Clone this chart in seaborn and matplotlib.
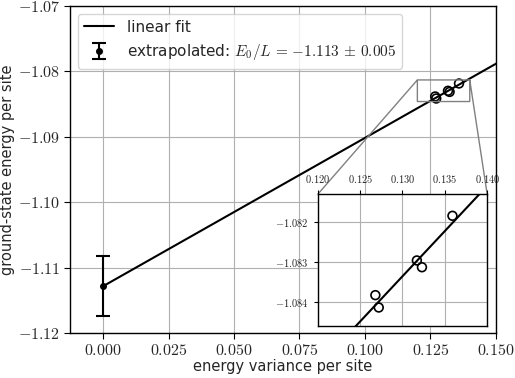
import numpy as np
import pandas as pd
import matplotlib
matplotlib.use("Agg")
import matplotlib.pyplot as plt
from matplotlib.ticker import FuncFormatter
import seaborn as sns

# data
variance = [0.1268, 0.1272, 0.1317, 0.1323, 0.1359]
energy = [-1.08383, -1.08414, -1.08296, -1.08313, -1.08184]
e0 = -1.1128
e0_err = 0.0046

slope, intercept = np.polyfit(variance, energy, 1)
fit_x = np.array([0.0, 0.16])
fit = pd.DataFrame({"x": fit_x, "y": intercept + slope * fit_x})
pts = pd.DataFrame({"x": variance, "y": energy})

sns.set_style("whitegrid", {"axes.edgecolor": "black", "grid.color": "#b0b0b0",
                            "xtick.bottom": True, "ytick.left": True})
plt.rcParams["font.family"] = ["DejaVu Sans"]
plt.rcParams["mathtext.fontset"] = "cm"
plt.rcParams["grid.linewidth"] = 0.8

fig = plt.figure(figsize=(5.15, 3.78), dpi=100)
ax = fig.add_axes([0.136, 0.119, 0.827, 0.865])

sns.lineplot(data=fit, x="x", y="y", color="black", lw=1.5, ax=ax, label="linear fit")
ax.errorbar([0.0], [e0], yerr=[e0_err], fmt="o", color="black", ms=4, capsize=5,
            elinewidth=1.5, capthick=1.5,
            label=r"extrapolated: $E_0/L\,=\,{-1.113}\,\pm\,0.005$")
sns.scatterplot(data=pts, x="x", y="y", ax=ax, marker="o", s=40,
                facecolor="none", edgecolor="black", linewidth=1.2)

ax.set_xlim(-0.0126, 0.15)
ax.set_ylim(-1.12, -1.07)
ax.set_xticks([0, 0.025, 0.05, 0.075, 0.1, 0.125, 0.15])
ax.set_yticks([-1.12, -1.11, -1.10, -1.09, -1.08, -1.07])
ax.xaxis.set_major_formatter(FuncFormatter(lambda v, p: f"${v:.3f}$"))
ax.yaxis.set_major_formatter(FuncFormatter(lambda v, p: f"${v:.2f}$"))
ax.tick_params(labelsize=11.5, length=4, color="black", pad=3)
ax.set_xlabel("energy variance per site", fontsize=10.5, labelpad=1)
ax.set_ylabel("ground-state energy per site", fontsize=10.5, labelpad=2)
for s in ax.spines.values():
    s.set_linewidth(1.0)
ax.legend(loc="upper left", fontsize=11, frameon=True, fancybox=True,
          framealpha=0.8, edgecolor="#cccccc")

# zoomed inset
axins = fig.add_axes([0.617, 0.138, 0.329, 0.348])
sns.lineplot(data=fit, x="x", y="y", color="black", lw=1.5, ax=axins)
sns.scatterplot(data=pts, x="x", y="y", ax=axins, marker="o", s=40,
                facecolor="none", edgecolor="black", linewidth=1.2)
axins.set_xlim(0.12, 0.14)
axins.set_ylim(-1.0846, -1.0813)
axins.set_xticks([0.12, 0.125, 0.13, 0.135, 0.14])
axins.set_yticks([-1.084, -1.083, -1.082])
axins.xaxis.set_major_formatter(FuncFormatter(lambda v, p: f"${v:.3f}$"))
axins.yaxis.set_major_formatter(FuncFormatter(lambda v, p: f"${v:.3f}$"))
axins.xaxis.tick_top()
axins.tick_params(labelsize=7.5, length=3, color="black")
axins.set_xlabel("")
axins.set_ylabel("")
for s in axins.spines.values():
    s.set_linewidth(1.0)
ax.indicate_inset_zoom(axins, edgecolor="gray", alpha=1, lw=1)

fig.savefig("out.png", dpi=100)
